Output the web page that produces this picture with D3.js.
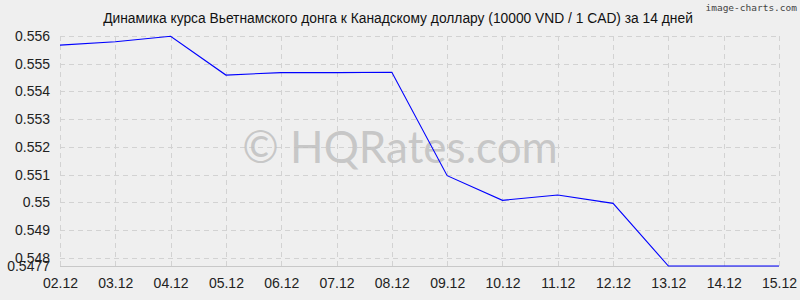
<!DOCTYPE html>
<html>
<head>
<meta charset="utf-8">
<script src="https://cdn.jsdelivr.net/npm/d3@7"></script>
<style>
  body { margin: 0; background: #efefef; }
  svg { display: block; font-family: "Liberation Sans", Arial, sans-serif; }
</style>
</head>
<body>
<div id="chart"></div>
<script>
// data
var dates = ["02.12", "03.12", "04.12", "05.12", "06.12", "07.12", "08.12",
             "09.12", "10.12", "11.12", "12.12", "13.12", "14.12", "15.12"]
var rates = [0.55567, 0.55579, 0.55599, 0.55459, 0.55468, 0.55468, 0.55469,
             0.55096, 0.55007, 0.55026, 0.54996, 0.5477, 0.5477, 0.5477]
var yTicks = [0.548, 0.549, 0.55, 0.551, 0.552, 0.553, 0.554, 0.555, 0.556]
var yMin = 0.5477
var title = "Динамика курса Вьетнамского донга к Канадскому доллару (10000 VND / 1 CAD) за 14 дней"

var width = 800, height = 300
var margin = {top: 36, right: 21, bottom: 34, left: 60}

var svg = d3.select("#chart").append("svg")
    .attr("width", width)
    .attr("height", height)

svg.append("rect")
    .attr("width", width)
    .attr("height", height)
    .attr("fill", "#efefef")

var x = d3.scalePoint()
    .domain(dates)
    .range([margin.left, width - margin.right])

var y = d3.scaleLinear()
    .domain([yMin, 0.556])
    .range([height - margin.bottom, margin.top])

// grid
var grid = svg.append("g")
    .attr("stroke", "#d2d2d2")
    .attr("stroke-width", 1)
    .attr("stroke-dasharray", "5,4")

grid.selectAll(".hg")
    .data(yTicks)
    .join("line")
    .attr("class", "hg")
    .attr("x1", margin.left)
    .attr("x2", width - margin.right)
    .attr("y1", d => Math.round(y(d)) + 0.5)
    .attr("y2", d => Math.round(y(d)) + 0.5)

grid.selectAll(".vg")
    .data(dates)
    .join("line")
    .attr("class", "vg")
    .attr("x1", d => Math.round(x(d)) + 0.5)
    .attr("x2", d => Math.round(x(d)) + 0.5)
    .attr("y1", margin.top)
    .attr("y2", height - margin.bottom)

// bottom baseline
svg.append("line")
    .attr("x1", margin.left)
    .attr("x2", width - margin.right)
    .attr("y1", Math.round(y(yMin)) + 0.5)
    .attr("y2", Math.round(y(yMin)) + 0.5)
    .attr("stroke", "#c8c8c8")

// watermark
svg.append("text")
    .attr("x", 400)
    .attr("y", 163)
    .attr("text-anchor", "middle")
    .attr("font-size", 44)
    .attr("font-family", "Lato, sans-serif")
    .attr("fill", "#bdbdbd")
    .attr("fill-opacity", 0.8)
    .text("© HQRates.com")

// y axis labels
var yAxis = d3.axisLeft(y)
    .tickValues(yTicks.concat([yMin]))
    .tickFormat(d => String(+d.toFixed(4)))
    .tickSize(0)
    .tickPadding(10)

svg.append("g")
    .attr("transform", "translate(" + margin.left + ",0)")
    .call(yAxis)
    .call(g => g.select(".domain").remove())
    .selectAll("text")
    .attr("font-size", 14)
    .attr("font-family", "Liberation Sans, Arial, sans-serif")
    .attr("fill", "#222")

// x axis labels
var xAxis = d3.axisBottom(x)
    .tickSize(0)
    .tickPadding(12)

svg.append("g")
    .attr("transform", "translate(0," + (height - margin.bottom) + ")")
    .call(xAxis)
    .call(g => g.select(".domain").remove())
    .selectAll("text")
    .attr("font-size", 14)
    .attr("font-family", "Liberation Sans, Arial, sans-serif")
    .attr("fill", "#222")

// line
var line = d3.line()
    .x((d, i) => x(dates[i]))
    .y(d => y(d))

svg.append("path")
    .datum(rates)
    .attr("d", line)
    .attr("fill", "none")
    .attr("stroke", "#0000ff")
    .attr("stroke-width", 1.1)

// title
svg.append("text")
    .attr("x", 398)
    .attr("y", 23)
    .attr("text-anchor", "middle")
    .attr("font-size", 13.8)
    .attr("fill", "#111")
    .text(title)

svg.append("text")
    .attr("x", 797)
    .attr("y", 11)
    .attr("text-anchor", "end")
    .attr("font-size", 9.5)
    .attr("font-family", "DejaVu Sans Mono, monospace")
    .attr("fill", "#444")
    .text("image-charts.com")
</script>
</body>
</html>
